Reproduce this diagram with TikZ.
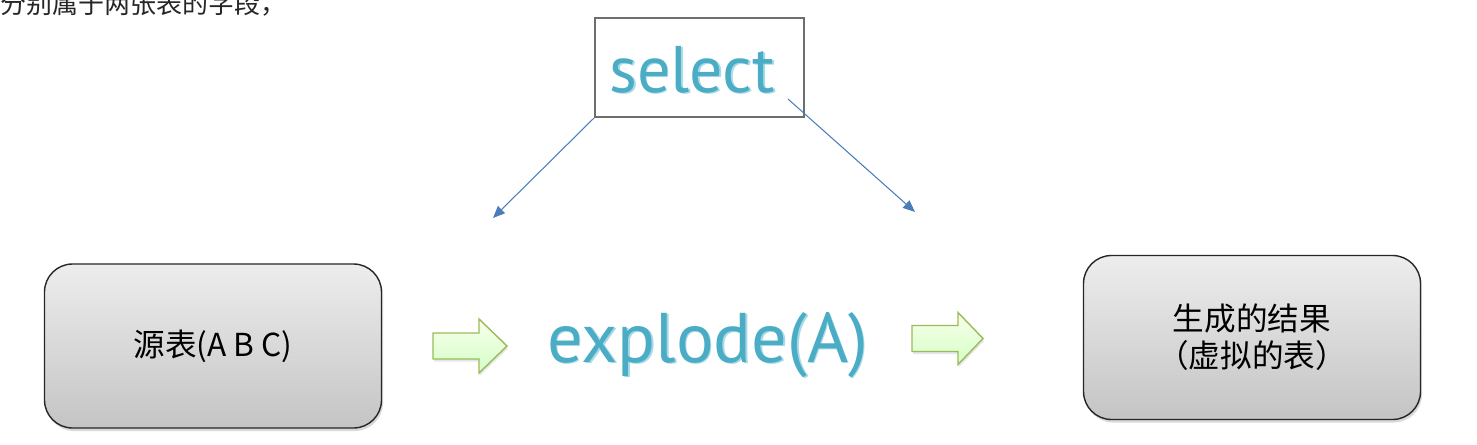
\documentclass[tikz,border=0pt]{standalone}
\usepackage{fontspec}
\newfontfamily\cjk{Noto Sans CJK SC}
\newfontfamily\wordart{PT Sans}
\usetikzlibrary{positioning, arrows.meta, shadows}
\definecolor{aqua}{HTML}{4BACC6}
\definecolor{aqualt}{HTML}{A9D9E6}
\definecolor{flowblue}{HTML}{4A7EBB}
\definecolor{leaf}{HTML}{9BBB59}
\tikzset{>={Triangle[length=0.24cm,width=0.2cm]},
tbl/.style={draw=black!85, line width=0.8pt, rounded corners=0.56cm,
  top color=black!7, bottom color=black!23, align=center,
  minimum width=6.74cm, minimum height=3.28cm,
  font=\cjk\fontsize{18}{21}\selectfont,
  drop shadow={shadow xshift=0.03cm, shadow yshift=-0.06cm, opacity=0.3}},
word/.style={text=aqua, inner sep=0, anchor=base},
wordshade/.style={text=aqualt, inner sep=0, anchor=base, xshift=0.035cm, yshift=-0.035cm},
flow/.style={->, draw=flowblue, fill=none, line width=0.6pt},
fat/.style={draw=leaf, line width=0.8pt, top color=green!6!lime!8, bottom color=lime!30!green!22,
  drop shadow={shadow xshift=0.02cm, shadow yshift=-0.05cm, opacity=0.2}}
}

\begin{document}
\begin{tikzpicture}
\useasboundingbox (0,0) rectangle (29.54,8.88);
% cut-off line of the page above
\node[anchor=base west, inner sep=0, text=black!85,
  font=\cjk\fontsize{14.8}{16}\selectfont] (N) at (0,8.62) {分别属于两张表的字段，};

% select
\node[draw=black!57, line width=1.2pt, minimum width=4.18cm, minimum height=1.98cm] (S) at (13.99,7.53) {};
\node[wordshade, font=\wordart\fontsize{37.5}{40}\selectfont] (S1) at (13.84,7.04) {select};
\node[word, font=\wordart\fontsize{37.5}{40}\selectfont] (S2) at (13.84,7.04) {select};
\coordinate (s) at ([xshift=-0.34cm,yshift=0.38cm]S.south east);
\coordinate (aL) at (9.86,4.52);
\coordinate (aR) at (18.30,4.64);
\draw[flow] (S.south west) -- (aL);
\draw[flow] (s) -- (aR);

% tables
\node[tbl] (T) at (4.26,1.96) {源表(A B C)};
\node[tbl] (R) at (25.04,2.13) {生成的结果\\（虚拟的表）};

% explode
\node[wordshade, font=\wordart\fontsize{40}{44}\selectfont] (E1) at (14.15,1.64) {explode(A)};
\node[word, font=\wordart\fontsize{40}{44}\selectfont] (E2) at (14.15,1.64) {explode(A)};

% fat arrows
\draw[fat] (8.66,1.70) -- ++(0.92,0) -- ++(0,-0.28) -- ++(0.56,0.54)
  -- ++(-0.56,0.54) -- ++(0,-0.28) -- ++(-0.92,0) -- cycle;
\draw[fat] (18.24,1.85) -- ++(0.92,0) -- ++(0,-0.26) -- ++(0.50,0.52)
  -- ++(-0.50,0.52) -- ++(0,-0.26) -- ++(-0.92,0) -- cycle;
\end{tikzpicture}
\end{document}
